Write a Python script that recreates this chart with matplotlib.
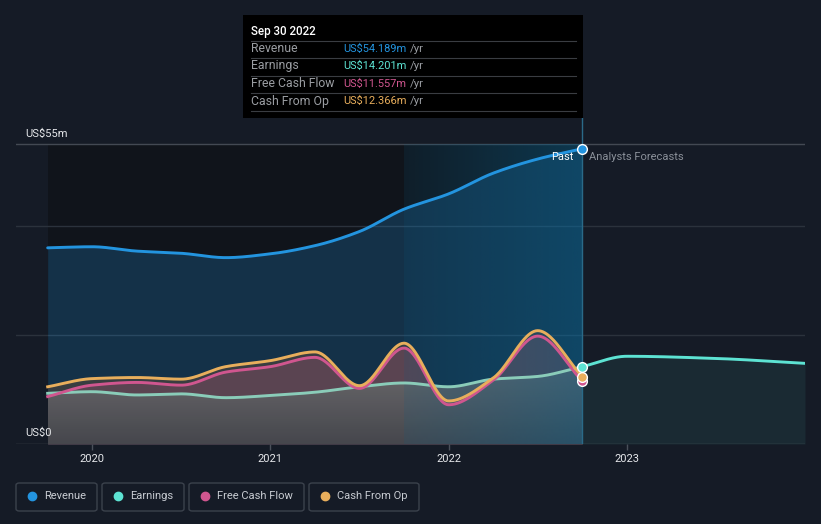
import numpy as np
import matplotlib
matplotlib.use("Agg")
import matplotlib.pyplot as plt
from matplotlib.patches import Rectangle, FancyBboxPatch, Polygon
from matplotlib.lines import Line2D

plt.rcParams['font.family'] = ['Roboto', 'DejaVu Sans']

# ---------------- data ----------------
past_t = [2019.75, 2020.0, 2020.25, 2020.5, 2020.75, 2021.0, 2021.25, 2021.5,
          2021.75, 2022.0, 2022.25, 2022.5, 2022.75]
revenue = [36.0, 36.2, 35.4, 35.0, 34.2, 34.9, 36.4, 39.0, 43.1, 45.9, 49.7, 52.3, 54.189]
earnings = [9.3, 9.6, 9.0, 9.2, 8.5, 8.9, 9.5, 10.5, 11.2, 10.5, 11.9, 12.4, 14.201]
fcf = [8.7, 10.8, 11.3, 10.8, 13.2, 14.2, 15.9, 10.2, 17.6, 7.2, 11.7, 19.8, 11.557]
cfo = [10.5, 12.0, 12.2, 11.9, 14.2, 15.3, 16.9, 10.7, 18.5, 7.9, 12.1, 20.8, 12.366]

fc_t = [2022.75, 2023.0, 2023.5, 2024.0]
fc_earnings = [14.201, 16.1, 15.7, 14.8]

year_ticks = [2020, 2021, 2022, 2023]
year_labels = ["2020", "2021", "2022", "2023"]

tooltip_date = "Sep 30 2022"
tooltip_rows = ["Revenue", "Earnings", "Free Cash Flow", "Cash From Op"]
tooltip_vals = ["US$54.189m", "US$14.201m", "US$11.557m", "US$12.366m"]
legend_names = ["Revenue", "Earnings", "Free Cash Flow", "Cash From Op"]

C_REV = '#2394df'
C_EARN = '#5de3d3'
C_EARN_PAST = '#8accb9'
C_FCF = '#d0568f'
C_CFO = '#e8ae5c'
BG = '#151b26'

W, H = 821, 524


def pchip(x, y, xs):
    x = np.asarray(x, float); y = np.asarray(y, float)
    h = np.diff(x); d = np.diff(y) / h
    n = len(x)
    m = np.zeros(n)
    for k in range(1, n - 1):
        if d[k - 1] * d[k] <= 0:
            m[k] = 0
        else:
            w1 = 2 * h[k] + h[k - 1]
            w2 = h[k] + 2 * h[k - 1]
            m[k] = (w1 + w2) / (w1 / d[k - 1] + w2 / d[k])
    m[0] = d[0]; m[-1] = d[-1]
    idx = np.clip(np.searchsorted(x, xs) - 1, 0, n - 2)
    t = (xs - x[idx]) / h[idx]
    h00 = 2 * t**3 - 3 * t**2 + 1
    h10 = t**3 - 2 * t**2 + t
    h01 = -2 * t**3 + 3 * t**2
    h11 = t**3 - t**2
    return h00 * y[idx] + h10 * h[idx] * m[idx] + h01 * y[idx + 1] + h11 * h[idx] * m[idx + 1]


fig = plt.figure(figsize=(W / 100, H / 100), dpi=100, facecolor=BG)
ax = fig.add_axes([16 / W, 1 - 444 / H, 789 / W, (444 - 118) / H])
ax.set_facecolor(BG)
for s in ax.spines.values():
    s.set_visible(False)

XL = (2024.0 - 789 / 178.2, 2024.0)
YT = (444 - 118) / 5.449

xs_p = np.linspace(past_t[0], past_t[-1], 600)
rev_s = pchip(past_t, revenue, xs_p)
earn_s = pchip(past_t, earnings, xs_p)
fcf_s = pchip(past_t, fcf, xs_p)
cfo_s = pchip(past_t, cfo, xs_p)
xs_f = np.linspace(fc_t[0], fc_t[-1], 300)
fce_s = pchip(fc_t, fc_earnings, xs_f)

# dark past region
ax.fill_between([past_t[0], past_t[-1]], 0, 55, color='#10141b', zorder=0.5, lw=0)

# grid lines
for g, c in [(20, '#2b323c'), (40, '#2b323c'), (55, '#434953'), (0, '#434953')]:
    ax.axhline(g, color=c, lw=1.0, zorder=0.6)

# revenue fill
ax.fill_between(xs_p, 0, rev_s, color=C_REV, alpha=0.23, lw=0, zorder=1)
# cfo fill
ax.fill_between(xs_p, 0, cfo_s, color='#3c3e40', alpha=0.95, lw=0, zorder=1.1)
# fcf fill
ax.fill_between(xs_p, 0, fcf_s, color='#5c4552', alpha=0.95, lw=0, zorder=1.2)


def grad_fill(x, y, top, bot, zorder):
    verts = [(x[0], 0)] + list(zip(x, y)) + [(x[-1], 0)]
    poly = Polygon(verts, closed=True, facecolor='none', edgecolor='none')
    ax.add_patch(poly)
    n = 256
    t = np.linspace(0, 1, n)[:, None]
    top = np.array(top); bot = np.array(bot)
    img = (top[None, :] * (1 - t) + bot[None, :] * t)[:, None, :]
    im = ax.imshow(img, extent=[x[0], x[-1], 0, max(y)], aspect='auto',
                   origin='upper', zorder=zorder, interpolation='bilinear')
    im.set_clip_path(poly)


grad_fill(xs_p, earn_s, (0.42, 0.42, 0.43, 0.94), (0.27, 0.28, 0.30, 0.94), 1.3)
ax.fill_between(xs_f, 0, fce_s, color=C_EARN, alpha=0.08, lw=0, zorder=1.3)

# highlighted last-year band overlay
n = 256
a = np.linspace(0.14, 0.48, n)
band = np.zeros((1, n, 4))
band[0, :, 0] = 10 / 255; band[0, :, 1] = 95 / 255; band[0, :, 2] = 135 / 255
band[0, :, 3] = a
ax.imshow(band, extent=[2021.75, 2022.75, 0, 55], aspect='auto', zorder=2,
          interpolation='bilinear')
ax.axvline(2022.75, color='#2a6a88', lw=1.0, zorder=2.1)

# lines
ax.plot(xs_p, rev_s, color=C_REV, lw=2.1, zorder=3, solid_capstyle='round')
ax.plot(xs_p, earn_s, color=C_EARN_PAST, lw=2.1, zorder=3)
ax.plot(xs_p, cfo_s, color=C_CFO, lw=2.1, zorder=3.1)
ax.plot(xs_p, fcf_s, color=C_FCF, lw=2.1, zorder=3.05)
ax.plot(xs_f, fce_s, color=C_EARN, lw=2.1, zorder=3)

# endpoint markers
for val, c in [(fcf[-1], C_FCF), (cfo[-1], C_CFO), (earnings[-1], C_EARN), (revenue[-1], C_REV)]:
    ax.plot([past_t[-1]], [val], 'o', ms=7, mfc=c, mec='white', mew=1.0, zorder=4)

ax.set_xlim(*XL)
ax.set_ylim(0, YT)
ax.set_xticks(year_ticks)
ax.set_xticklabels(year_labels)
ax.tick_params(axis='x', colors='#4a505a', length=4, width=1, labelcolor='#e6e8eb',
               labelsize=8, pad=3)
ax.set_yticks([])

# axis texts
ax.text(0.0113, 55.9, "US$55m", transform=ax.get_yaxis_transform(), color='#e6e8eb',
        fontsize=8, va='bottom', ha='left')
ax.text(0.0113, 1.1, "US$0", transform=ax.get_yaxis_transform(), color='#e6e8eb',
        fontsize=8, va='bottom', ha='left')
ax.text(2022.75 - 0.05, 52.6, "Past", color='#ffffff', fontsize=8, ha='right', va='center', zorder=5)
ax.text(2022.75 + 0.04, 52.6, "Analysts Forecasts", color='#8a9099', fontsize=8,
        ha='left', va='center', zorder=5)


def fx(x):
    return x / W


def fy(y):
    return 1 - y / H


# tooltip
fig.add_artist(Rectangle((fx(243), fy(118)), (583 - 243) / W, (118 - 15) / H,
                         transform=fig.transFigure, facecolor='#000000', edgecolor='none'))
fig.text(fx(251), fy(31), tooltip_date, color='#ffffff', fontsize=8.3, va='center', ha='left',
         fontweight='medium')
row_y = [49, 66, 84, 101]
sep_y = [41, 58, 76, 93, 111]
for yy in sep_y:
    fig.add_artist(Line2D([fx(251), fx(576)], [fy(yy), fy(yy)], transform=fig.transFigure,
                          color='#3a3d42', lw=0.8))
for r, v, c, yy in zip(tooltip_rows, tooltip_vals, [C_REV, C_EARN, C_FCF, C_CFO], row_y):
    fig.text(fx(251), fy(yy), r, color='#9a9da2', fontsize=8.8, va='center', ha='left')
    fig.text(fx(343), fy(yy), v, color=c, fontsize=7.9, va='center', ha='left')
    fig.text(fx(410), fy(yy), "/yr", color='#9a9da2', fontsize=8.2, va='center', ha='left')

# legend
boxes = [(16, 97), (102, 184), (189, 304), (309, 419)]
for (x0, x1), name, c in zip(boxes, legend_names, [C_REV, C_EARN, C_FCF, C_CFO]):
    fig.add_artist(FancyBboxPatch((fx(x0), fy(511)), (x1 - x0) / W, (511 - 483) / H,
                                  boxstyle='round,pad=0,rounding_size=0.004',
                                  transform=fig.transFigure, facecolor='none',
                                  edgecolor='#3b424c', lw=1.0))
    fig.add_artist(Line2D([fx(x0 + 16)], [fy(496)], marker='o', ms=6, mfc=c, mec=c,
                          transform=fig.transFigure))
    fig.text(fx(x0 + 28), fy(496), name, color='#c8ccd2', fontsize=8, va='center', ha='left')

fig.savefig('out.png', dpi=100, facecolor=BG)
